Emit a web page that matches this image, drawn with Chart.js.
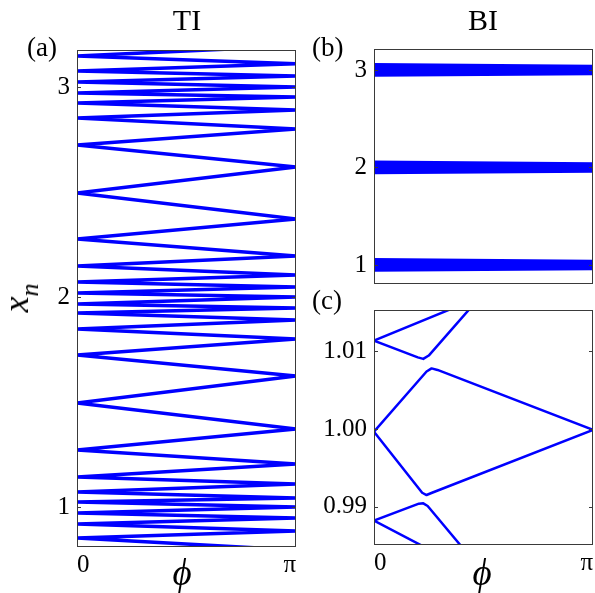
<!DOCTYPE html>
<html>
<head>
<meta charset="utf-8">
<script src="https://cdn.jsdelivr.net/npm/chart.js@4/dist/chart.umd.min.js"></script>
<style>
  body { margin: 0; background: #fff; }
  #page { position: relative; width: 595px; height: 593px; overflow: hidden; font-family: "Liberation Serif", serif; color: #000; }
  canvas { position: absolute; }
  .t { position: absolute; white-space: nowrap; line-height: 1; }
</style>
</head>
<body>
<div id="page">
  <canvas id="chartA" width="300" height="593" style="left:0;top:0"></canvas>
  <canvas id="chartB" width="295" height="300" style="left:300px;top:0"></canvas>
  <canvas id="chartC" width="295" height="293" style="left:300px;top:300px"></canvas>

  <div class="t" style="left:187px;top:5px;font-size:30px;transform:translateX(-50%)">TI</div>
  <div class="t" style="left:483px;top:5px;font-size:30px;transform:translateX(-50%)">BI</div>
  <div class="t" style="left:27px;top:34px;font-size:27px">(a)</div>
  <div class="t" style="left:312px;top:34px;font-size:27px">(b)</div>
  <div class="t" style="left:312px;top:287px;font-size:27px">(c)</div>
  <div class="t" style="left:16px;top:298px;font-size:36px;font-style:italic;transform:translate(-50%,-50%) rotate(-90deg)">x<span style="font-size:26px;position:relative;top:10px">n</span></div>
  <div class="t" style="left:182px;top:554px;font-size:37px;font-style:italic;transform:translateX(-50%)">ϕ</div>
  <div class="t" style="left:482px;top:554px;font-size:37px;font-style:italic;transform:translateX(-50%)">ϕ</div>
</div>
<script>
// (a) TI: zigzag vertices of x_n at phi = 0 and phi = pi (top to bottom)
const tiLeft  = [3.148, 3.076, 3.024, 2.971, 2.924, 2.852, 2.724, 2.495, 2.276, 2.148, 2.071, 2.019,
                 1.967, 1.924, 1.848, 1.724, 1.495, 1.271, 1.143, 1.071, 1.024, 0.971, 0.919, 0.852];
const tiRight = [3.195, 3.110, 3.052, 3.000, 2.952, 2.890, 2.800, 2.619, 2.371, 2.195, 2.105, 2.048, 2.000,
                 1.948, 1.890, 1.800, 1.624, 1.371, 1.205, 1.110, 1.043, 1.000, 0.948, 0.886, 0.795];
const tiTicks = [1, 2, 3];

// (b) BI: bands around each integer, offsets of the zigzag vertices
const biCenters = [1, 2, 3];
const biLeft  = [0.050, 0.017, -0.017, -0.050];
const biRight = [0.033, 0.000, -0.033];
const biTicks = [1, 2, 3];

// (c) zoom of the BI band near x_n = 1 : [phi/pi, x_n]
const curveTopUpper = [[0, 1.01136], [0.50, 1.01716]];
const curveTopLower = [[0, 1.01136], [0.200, 1.00922], [0.225, 1.00902], [0.250, 1.00945], [0.460, 1.01620]];
const curveMidUpper = [[0, 0.99965], [0.240, 1.00740], [0.263, 1.00780], [0.290, 1.00760], [1, 0.99990]];
const curveMidLower = [[0, 0.99965], [0.220, 0.99180], [0.240, 0.99151], [0.265, 0.99180], [1, 0.99990]];
const curveBotUpper = [[0, 0.98821], [0.205, 0.99040], [0.225, 0.99044], [0.245, 0.99010], [0.420, 0.98420]];
const curveBotLower = [[0, 0.98821], [0.300, 0.98380]];
const zoomTicks = [0.99, 1.00, 1.01];

const BLUE = '#0000ff';
const PI = Math.PI;
const tickFont = { family: 'Liberation Serif', size: 25 };

function zigzag(left, right) {
  // merge the two vertex lists, alternating phi = 0 / phi = pi
  const pts = [];
  const n = Math.max(left.length, right.length);
  for (let i = 0; i < n; i++) {
    if (left.length <= right.length) {
      if (i < right.length) pts.push({ x: PI, y: right[i] });
      if (i < left.length) pts.push({ x: 0, y: left[i] });
    } else {
      if (i < left.length) pts.push({ x: 0, y: left[i] });
      if (i < right.length) pts.push({ x: PI, y: right[i] });
    }
  }
  return pts;
}

function line(data, width) {
  return { data: data, showLine: true, borderColor: BLUE, borderWidth: width, pointRadius: 0,
           fill: false, tension: 0, clip: 0, borderJoinStyle: 'round', borderCapStyle: 'round' };
}

const boxPlugin = {
  id: 'box',
  afterDatasetsDraw(chart) {
    const { ctx, chartArea: a, scales } = chart;
    ctx.save();
    ctx.strokeStyle = '#3a3a3a';
    ctx.lineWidth = 1;
    ctx.strokeRect(Math.round(a.left) + 0.5, Math.round(a.top) + 0.5, Math.round(a.width) - 1, Math.round(a.height) - 1);
    ctx.beginPath();
    scales.y.ticks.forEach(t => {
      const y = Math.round(scales.y.getPixelForValue(t.value)) + 0.5;
      ctx.moveTo(a.left, y); ctx.lineTo(a.left + 4, y);
      ctx.moveTo(a.right, y); ctx.lineTo(a.right - 4, y);
    });
    ctx.stroke();
    ctx.restore();
  }
};

function makeChart(id, datasets, o) {
  return new Chart(document.getElementById(id), {
    type: 'scatter',
    data: { datasets: datasets },
    options: {
      responsive: false,
      animation: false,
      events: [],
      plugins: { legend: { display: false }, tooltip: { enabled: false } },
      layout: { padding: o.padding },
      scales: {
        x: {
          type: 'linear', min: 0, max: PI, display: o.showX,
          afterBuildTicks: s => { s.ticks = [{ value: 0 }, { value: PI }]; },
          afterFit: s => { s.height = o.xHeight; s.paddingLeft = 0; s.paddingRight = 0; },
          ticks: { callback: v => (v === 0 ? '0' : 'π'), align: 'inner', padding: 3, font: tickFont, color: '#000', maxRotation: 0 },
          grid: { display: false, drawTicks: false },
          border: { display: false }
        },
        y: {
          type: 'linear', min: o.yMin, max: o.yMax,
          afterBuildTicks: s => { s.ticks = o.yTicks.map(v => ({ value: v })); },
          afterFit: s => { s.width = o.yWidth; s.paddingTop = 0; s.paddingBottom = 0; },
          ticks: { callback: o.yLabel, padding: 7, font: tickFont, color: '#000' },
          grid: { display: false, drawTicks: false },
          border: { display: false }
        }
      }
    },
    plugins: [boxPlugin]
  });
}

window.onload = function() {
  makeChart('chartA', [line(zigzag(tiLeft, tiRight), 3.5)], {
    padding: { top: 50, right: 4, bottom: 0, left: 0 },
    showX: true, xHeight: 46, yWidth: 77,
    yMin: 0.8095, yMax: 3.176, yTicks: tiTicks, yLabel: v => String(v)
  });

  const bands = biCenters.map(c => line(zigzag(biLeft.map(d => c + d), biRight.map(d => c + d)), 4));
  makeChart('chartB', bands, {
    padding: { top: 49, right: 2, bottom: 16, left: 0 },
    showX: false, xHeight: 0, yWidth: 74,
    yMin: 0.805, yMax: 3.215, yTicks: biTicks, yLabel: v => String(v)
  });

  const toPts = arr => arr.map(p => ({ x: p[0] * PI, y: p[1] }));
  const curves = [curveTopUpper, curveTopLower, curveMidUpper, curveMidLower, curveBotUpper, curveBotLower];
  makeChart('chartC', curves.map(c => line(toPts(c), 2.5)), {
    padding: { top: 10, right: 2, bottom: 0, left: 0 },
    showX: true, xHeight: 48, yWidth: 74,
    yMin: 0.98508, yMax: 1.01531, yTicks: zoomTicks, yLabel: v => v.toFixed(2)
  });
};
</script>
</body>
</html>
